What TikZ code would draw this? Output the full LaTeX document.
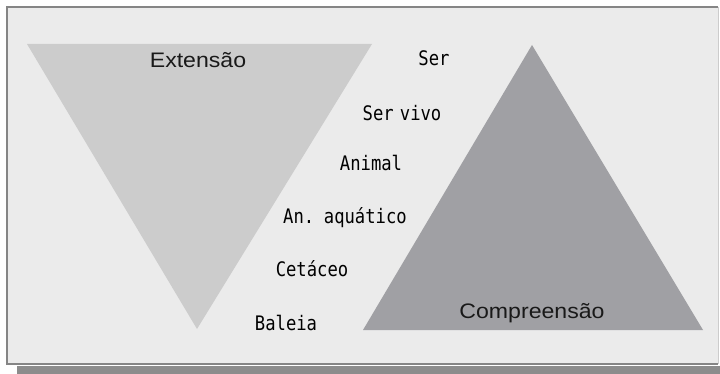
\documentclass[tikz,border=0pt]{standalone}
\usepackage{fontspec}
\setmainfont{Liberation Sans}
\newfontfamily\titlefont[FakeStretch=1.1]{Liberation Sans}
\newfontfamily\levelfont[FakeStretch=0.86,WordSpace=0.6]{DejaVu Sans Mono}
\usetikzlibrary{positioning}
\definecolor{panelbg}{HTML}{EBEBEB}
\definecolor{panelline}{HTML}{858585}
\definecolor{shadowgray}{HTML}{8C8C8C}
\definecolor{extgray}{HTML}{CCCCCC}
\definecolor{compgray}{HTML}{A0A0A4}

\begin{document}
\begin{tikzpicture}[x=1pt, y=-1pt,
    title/.style={anchor=base, inner sep=0pt, text=black!90, font=\titlefont\fontsize{21}{24}\selectfont},
    level/.style={anchor=base, inner sep=0pt, font=\levelfont\fontsize{20}{22}\selectfont}]
        \useasboundingbox (0,0) rectangle (720,374);

        % Draw the panel and its shadow
        \fill [shadowgray] (17,366) rectangle (720,374);
        \fill [panelbg] (7,7) rectangle (718,364);
        \draw [panelline, line width=1.2pt] (718,7) -- (7,7) -- (7,364) -- (718,364);
        \draw [black!20, line width=0.8pt] (718,7) -- (718,364);

        % Draw the triangles
        \fill [extgray] (27,44) -- (372,44) -- (197,329) -- cycle;
        \fill [compgray] (532,45) -- (703,330) -- (363,330) -- cycle;

        % Titles of the triangles
        \node (ext)  [title] at (198,68)  {Extensão};
        \node (comp) [title] at (532,318) {Compreensão};

        % Levels between them
        \node (ser)      [level] at (434,66)  {Ser};
        \node (servivo)  [level] at (402,121) {Ser vivo};
        \node (animal)   [level] at (371,171) {Animal};
        \node (aquatico) [level] at (345,223) {An. aquático};
        \node (cetaceo)  [level] at (312,276) {Cetáceo};
        \node (baleia)   [level] at (286,330) {Baleia};
    \end{tikzpicture}
\end{document}
